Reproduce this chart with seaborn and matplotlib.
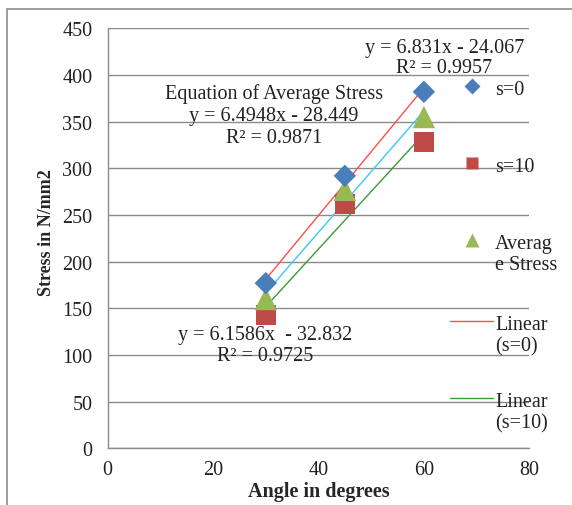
import matplotlib
matplotlib.use('Agg')
import matplotlib.pyplot as plt
from matplotlib.lines import Line2D
from matplotlib.patches import Rectangle
import seaborn as sns
import pandas as pd

# values
angles = [30, 45, 60]
stress_s0 = [177, 292, 382]
stress_s10 = [143, 262, 328]
stress_avg = [160, 277, 355]

x_ticks = [0, 20, 40, 60, 80]
y_ticks = [0, 50, 100, 150, 200, 250, 300, 350, 400, 450]

legend_labels = ['s=0', 's=10', 'Averag\ne Stress', 'Linear\n(s=0)', 'Linear\n(s=10)']

df = pd.DataFrame({'angle': angles, 's0': stress_s0, 's10': stress_s10, 'avg': stress_avg})

sns.set_style('white')
plt.rcParams['font.family'] = ['Liberation Serif', 'DejaVu Serif']
plt.rcParams['font.size'] = 14.5

W, H = 572, 506
fig = plt.figure(figsize=(W / 100, H / 100), dpi=100)
ax = fig.add_axes([0.1883, 0.1120, 0.9253 - 0.1883, 0.9420 - 0.1120])


def fx(px):
    return px / W


def fy(py):
    return 1 - py / H


# outer chart frame
fig.patches.append(Rectangle((fx(7), -0.05), 1.1, fy(10) + 0.05, transform=fig.transFigure,
                             fill=False, edgecolor='#8c8c8c', linewidth=1.2, zorder=0))

grey = '#8a8a8a'
ink = '#222222'
blue, red, green = '#4a7ebb', '#be4b48', '#98b954'
red_line, cyan_line, green_line = '#ff4d4d', '#3cc8f5', '#3a9a3a'

# trend lines
sns.regplot(data=df, x='angle', y='s0', scatter=False, ci=None, truncate=True, ax=ax,
            line_kws=dict(color=red_line, linewidth=1.0, zorder=2))
sns.regplot(data=df, x='angle', y='avg', scatter=False, ci=None, truncate=True, ax=ax,
            line_kws=dict(color=cyan_line, linewidth=1.0, zorder=2))
sns.regplot(data=df, x='angle', y='s10', scatter=False, ci=None, truncate=True, ax=ax,
            line_kws=dict(color=green_line, linewidth=1.0, zorder=2))

# points
sns.scatterplot(data=df, x='angle', y='s10', marker='s', s=200, color=red, edgecolor='none', ax=ax, zorder=3)
sns.scatterplot(data=df, x='angle', y='avg', marker='^', s=260, color=green, edgecolor='none', ax=ax, zorder=4)
sns.scatterplot(data=df, x='angle', y='s0', marker='D', s=130, color=blue, edgecolor='none', ax=ax, zorder=5)

ax.set_xlim(0, 80)
ax.set_ylim(0, 450)
ax.set_xticks(x_ticks)
ax.set_yticks(y_ticks)
ax.yaxis.grid(True, color=grey, linewidth=1.0)
ax.xaxis.grid(False)
ax.set_axisbelow(True)
for side in ['top', 'right']:
    ax.spines[side].set_visible(False)
for side in ['left', 'bottom']:
    ax.spines[side].set_color(grey)
    ax.spines[side].set_linewidth(1.0)
ax.tick_params(axis='both', direction='out', length=5, color=grey, width=1.0,
               labelsize=14.5, labelcolor=ink)
ax.tick_params(axis='y', pad=6)

ax.set_xlabel('Angle in degrees', fontsize=14.5, fontweight='bold', labelpad=1)
ax.set_ylabel('Stress in N/mm2', fontsize=13, fontweight='bold')
ax.yaxis.set_label_coords(-0.125, 0.515)

# equation labels
txt = dict(fontsize=14.5, ha='center', va='center', color=ink, zorder=6)
ax.text(63.9, 430, 'y = 6.831x - 24.067', **txt)
ax.text(63.9, 408, 'R² = 0.9957', **txt)
ax.text(31.5, 381, 'Equation of Average Stress', **txt)
ax.text(31.5, 357, 'y = 6.4948x - 28.449', **txt)
ax.text(31.5, 333, 'R² = 0.9871', **txt)
ax.text(29.8, 122, 'y = 6.1586x  - 32.832', **txt)
ax.text(29.8, 99, 'R² = 0.9725', **txt)

# legend, laid out like the Excel one (fixed slots, handle on the first text line)
legend_handles = [
    dict(marker='D', markersize=8, color=blue),
    dict(marker='s', markersize=9, color=red),
    dict(marker='^', markersize=9.5, color=green),
    dict(line=red_line),
    dict(line=green_line),
]
legend_rows = [87, 164, 241, 322, 399]
for label, handle, row in zip(legend_labels, legend_handles, legend_rows):
    if 'line' in handle:
        fig.add_artist(Line2D([fx(450), fx(493)], [fy(row), fy(row)], color=handle['line'],
                              linewidth=1.0, transform=fig.transFigure))
    else:
        fig.add_artist(Line2D([fx(472)], [fy(row)], linestyle='none', marker=handle['marker'],
                              markersize=handle['markersize'], color=handle['color'],
                              markeredgecolor='none', transform=fig.transFigure))
    fig.text(fx(495), fy(row - 6), label, fontsize=14.5, color=ink, ha='left', va='top',
             linespacing=1.15)

fig.savefig('out.png', dpi=100)
